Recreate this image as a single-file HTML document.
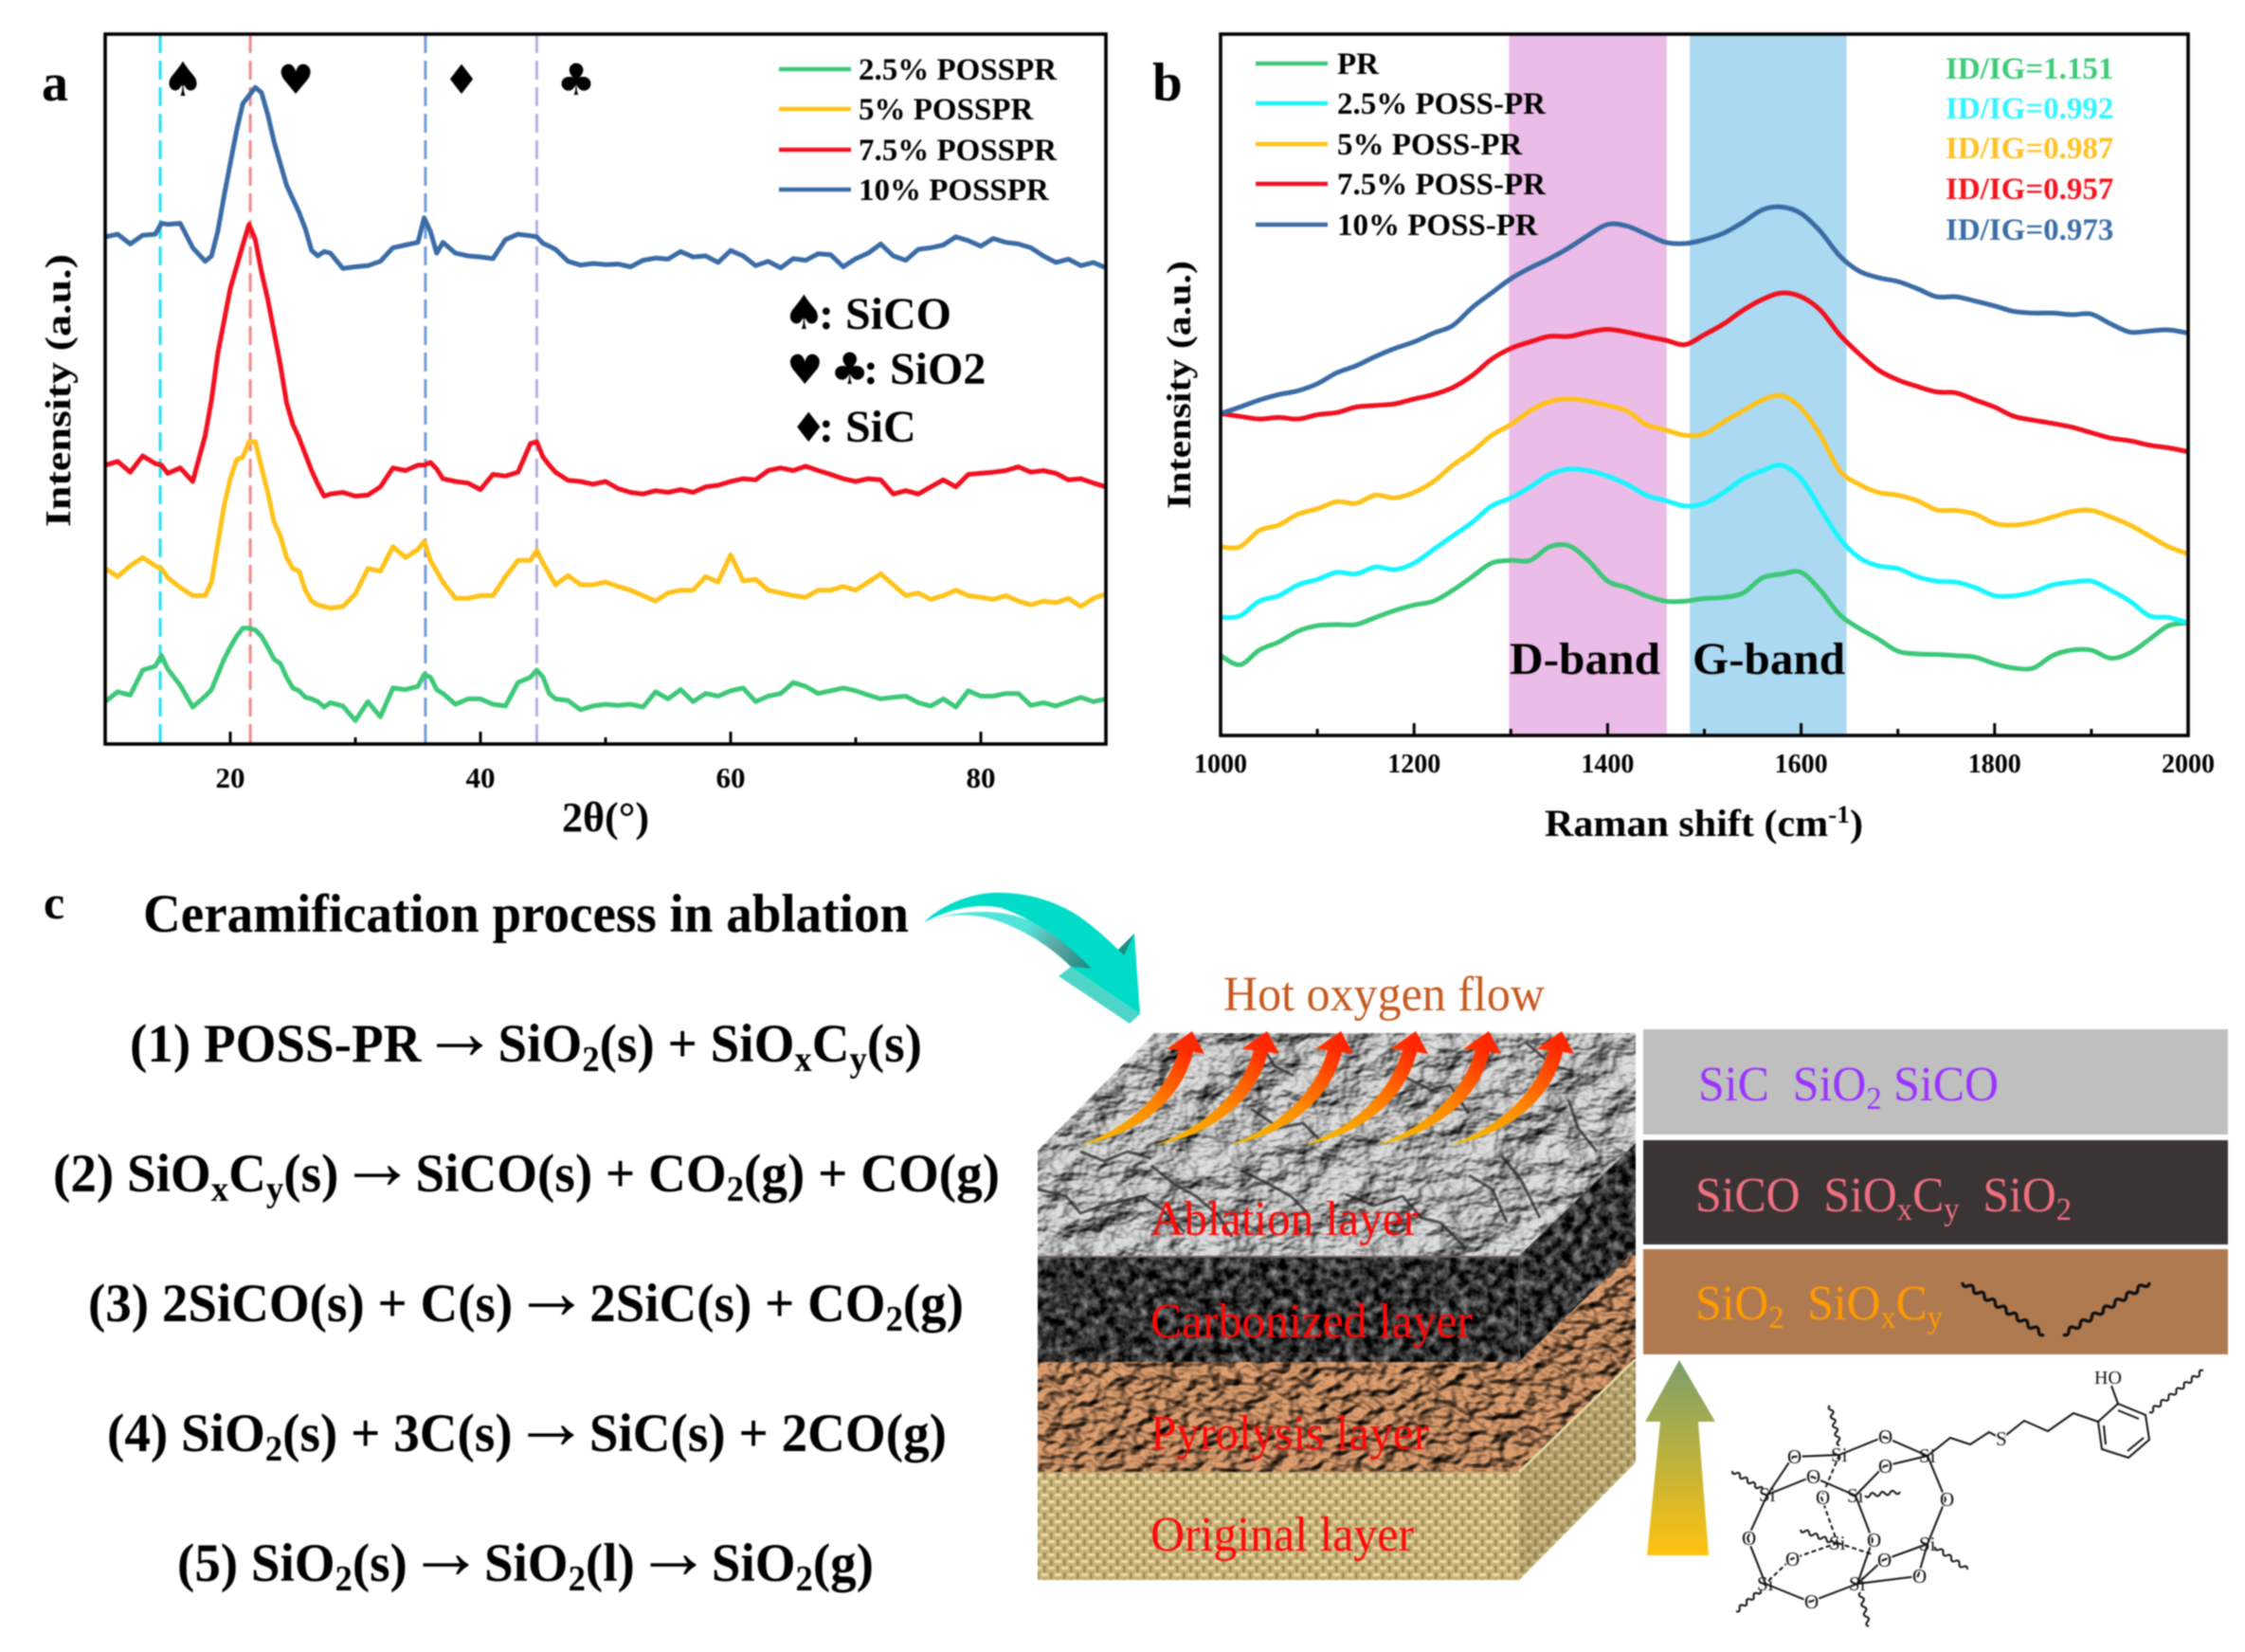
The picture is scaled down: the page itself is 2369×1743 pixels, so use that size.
<!DOCTYPE html>
<html lang="en">
<head>
<meta charset="utf-8">
<title>POSS-PR XRD, Raman and ceramification figure</title>
<style>
html,body{margin:0;padding:0;background:#fff;}
svg{display:block;filter:blur(0.8px);}
text{font-family:"Liberation Serif",serif;}
.b{font-weight:bold;}
.ar{font-weight:normal;}
</style>
</head>
<body>
<svg id="fig" xmlns="http://www.w3.org/2000/svg" width="2369" height="1743" viewBox="0 0 2369 1743">
<defs>
<filter id="texAbl" x="0" y="0" width="100%" height="100%" color-interpolation-filters="sRGB"><feTurbulence type="fractalNoise" baseFrequency="0.022 0.032" numOctaves="4" seed="4"/><feDiffuseLighting surfaceScale="13" diffuseConstant="1.12" lighting-color="#c8c8c8"><feDistantLight azimuth="225" elevation="55"/></feDiffuseLighting></filter>
<filter id="texCarb" x="0" y="0" width="100%" height="100%" color-interpolation-filters="sRGB"><feTurbulence type="fractalNoise" baseFrequency="0.1" numOctaves="3" seed="8"/><feColorMatrix type="matrix" values="1 0 0 0 -0.3  1 0 0 0 -0.3  1 0 0 0 -0.3  0 0 0 0 1"/></filter>
<filter id="texPyro" x="0" y="0" width="100%" height="100%" color-interpolation-filters="sRGB"><feTurbulence type="fractalNoise" baseFrequency="0.06 0.085" numOctaves="2" seed="12"/><feDiffuseLighting surfaceScale="10" diffuseConstant="1.02" lighting-color="#e0a070"><feDistantLight azimuth="225" elevation="60"/></feDiffuseLighting></filter>
<pattern id="weave" width="14" height="14" patternUnits="userSpaceOnUse">
  <rect width="14" height="14" fill="#c8b27a"/>
  <rect x="0" y="1" width="7" height="3" fill="#ecdca4"/>
  <rect x="7" y="8" width="7" height="3" fill="#ecdca4"/>
  <rect x="9" y="0" width="2.5" height="7" fill="#a08c58"/>
  <rect x="2" y="7" width="2.5" height="7" fill="#a08c58"/>
</pattern>
<clipPath id="clipAbl"><polygon points="1095,1214 1218,1090 1726,1090 1726,1206 1603,1325 1095,1325"/></clipPath>
<clipPath id="clipCarb"><polygon points="1095,1325 1603,1325 1726,1206 1726,1319 1603,1437 1095,1437"/></clipPath>
<clipPath id="clipPyro"><polygon points="1095,1437 1603,1437 1726,1319 1726,1434 1603,1553 1095,1553"/></clipPath>
<clipPath id="clipOrig"><polygon points="1095,1553 1603,1553 1726,1434 1726,1543 1603,1667 1095,1667"/></clipPath>
<linearGradient id="hotGrad" x1="0" y1="1" x2="1" y2="0"><stop offset="0" stop-color="#f5c400"/><stop offset="0.45" stop-color="#ff8a00"/><stop offset="0.85" stop-color="#ff2a00"/><stop offset="1" stop-color="#ff2000"/></linearGradient>
<linearGradient id="upGrad" x1="0" y1="0" x2="0" y2="1"><stop offset="0" stop-color="#7a9f6c"/><stop offset="1" stop-color="#ffc20e"/></linearGradient>
<linearGradient id="tealShade" gradientUnits="userSpaceOnUse" x1="1085" y1="975" x2="1150" y2="1022"><stop offset="0" stop-color="#52e4d8"/><stop offset="0.45" stop-color="#5aa8a4"/><stop offset="1" stop-color="#1e8883"/></linearGradient>
<path id="hotArrow" d="M0 0 C45 -16 90 -50 104 -100 L91 -101 L118 -120 L131 -96 L119 -98 C105 -40 50 -8 0 0Z" fill="url(#hotGrad)"/>
</defs>
<rect width="2369" height="1743" fill="#fff"/>

<g id="panelA">
  <g id="aBands"></g>
  <g id="aSeries"></g>
  <rect x="111" y="36" width="1056" height="749" fill="none" stroke="#000" stroke-width="3.6"/>
  <g id="aTicks"></g>
  <text x="44" y="106" class="b" font-size="56">a</text>
  <text x="593" y="877" font-size="44" textLength="92" lengthAdjust="spacingAndGlyphs" style="font-weight:bold">2θ(°)</text>
  <text transform="translate(74,412) rotate(-90)" text-anchor="middle" class="b" font-size="38" textLength="288" lengthAdjust="spacingAndGlyphs">Intensity (a.u.)</text>
  <g text-anchor="middle">
    <text x="193" y="101" font-size="50" style="font-family:'DejaVu Sans',sans-serif">♠</text>
    <text x="312" y="99" font-size="43" style="font-family:'DejaVu Sans',sans-serif">♥</text>
    <text x="487" y="99" font-size="43" style="font-family:'DejaVu Sans',sans-serif">♦</text>
    <text x="608" y="100" font-size="46" style="font-family:'DejaVu Sans',sans-serif">♣</text>
  </g>
  <g class="b" font-size="33">
    <g><line x1="822" x2="898" y1="73" y2="73" stroke="#3dc878" stroke-width="4.5"/><text x="906" y="84">2.5% POSSPR</text></g>
    <g><line x1="822" x2="898" y1="115" y2="115" stroke="#ffc21a" stroke-width="4.5"/><text x="906" y="126">5% POSSPR</text></g>
    <g><line x1="822" x2="898" y1="158" y2="158" stroke="#f01020" stroke-width="4.5"/><text x="906" y="169">7.5% POSSPR</text></g>
    <g><line x1="822" x2="898" y1="200" y2="200" stroke="#3a6ba5" stroke-width="4.5"/><text x="906" y="211">10% POSSPR</text></g>
  </g>
  <g class="b" font-size="48">
    <text y="347"><tspan x="826" style="font-family:'DejaVu Sans',sans-serif" font-size="50">♠</tspan><tspan x="864">: SiCO</tspan></text>
    <text y="405"><tspan x="830" style="font-family:'DejaVu Sans',sans-serif" font-size="43">♥</tspan><tspan x="876" style="font-family:'DejaVu Sans',sans-serif" font-size="46">♣</tspan><tspan x="911">: SiO2</tspan></text>
    <text y="466"><tspan x="834" style="font-family:'DejaVu Sans',sans-serif" font-size="43">♦</tspan><tspan x="864">: SiC</tspan></text>
  </g>
</g>

<g id="panelB">
  <g id="bBands"></g>
  <g id="bSeries"></g>
  <rect x="1288" y="36" width="1021" height="740" fill="none" stroke="#000" stroke-width="3.6"/>
  <g id="bTicks"></g>
  <text x="1216" y="106" class="b" font-size="57">b</text>
  <text x="1798" y="882" text-anchor="middle" class="b" font-size="40" textLength="336" lengthAdjust="spacingAndGlyphs">Raman shift (cm<tspan dy="-14" font-size="26">-1</tspan><tspan dy="14">)</tspan></text>
  <text transform="translate(1256,406) rotate(-90)" text-anchor="middle" class="b" font-size="36" textLength="262" lengthAdjust="spacingAndGlyphs">Intensity (a.u.)</text>
  <text x="1593" y="711" class="b" font-size="48" textLength="159" lengthAdjust="spacingAndGlyphs">D-band</text>
  <text x="1786" y="711" class="b" font-size="48" textLength="161" lengthAdjust="spacingAndGlyphs">G-band</text>
  <g class="b" font-size="33">
    <g><line x1="1325" x2="1401" y1="67" y2="67" stroke="#3dc878" stroke-width="4.5"/><text x="1411" y="78">PR</text></g>
    <g><line x1="1325" x2="1401" y1="109" y2="109" stroke="#19f5ff" stroke-width="4.5"/><text x="1411" y="120">2.5% POSS-PR</text></g>
    <g><line x1="1325" x2="1401" y1="152" y2="152" stroke="#ffc21a" stroke-width="4.5"/><text x="1411" y="163">5% POSS-PR</text></g>
    <g><line x1="1325" x2="1401" y1="194" y2="194" stroke="#f01020" stroke-width="4.5"/><text x="1411" y="205">7.5% POSS-PR</text></g>
    <g><line x1="1325" x2="1401" y1="237" y2="237" stroke="#3a6ba5" stroke-width="4.5"/><text x="1411" y="248">10% POSS-PR</text></g>
  </g>
  <g class="b" font-size="33">
    <text x="2053" y="83" fill="#3ecb78">ID/IG=1.151</text>
    <text x="2053" y="125" fill="#33f5ff">ID/IG=0.992</text>
    <text x="2053" y="167" fill="#ffc125">ID/IG=0.987</text>
    <text x="2053" y="210" fill="#f5141e">ID/IG=0.957</text>
    <text x="2053" y="253" fill="#3a6ea5">ID/IG=0.973</text>
  </g>
</g>

<g id="panelC">
  <text x="46" y="969" class="b" font-size="50">c</text>
  <text x="151" y="983" class="b" font-size="57" textLength="808" lengthAdjust="spacingAndGlyphs">Ceramification process in ablation</text>
  <g class="b" font-size="57">
    <text x="137" y="1120" textLength="836" lengthAdjust="spacingAndGlyphs">(1) POSS-PR<tspan class="ar" font-size="84" dy="-3">→</tspan><tspan dy="3">SiO</tspan><tspan dy="10" font-size="38">2</tspan><tspan dy="-10">(s) + SiO</tspan><tspan dy="10" font-size="38">x</tspan><tspan dy="-10">C</tspan><tspan dy="10" font-size="38">y</tspan><tspan dy="-10">(s)</tspan></text>
    <text x="56" y="1257" textLength="999" lengthAdjust="spacingAndGlyphs">(2) SiO<tspan dy="10" font-size="38">x</tspan><tspan dy="-10">C</tspan><tspan dy="10" font-size="38">y</tspan><tspan dy="-10">(s)</tspan><tspan class="ar" font-size="84" dy="-3">→</tspan><tspan dy="3">SiCO(s) + CO</tspan><tspan dy="10" font-size="38">2</tspan><tspan dy="-10">(g) + CO(g)</tspan></text>
    <text x="93" y="1394" textLength="924" lengthAdjust="spacingAndGlyphs">(3) 2SiCO(s) + C(s)<tspan class="ar" font-size="84" dy="-3">→</tspan><tspan dy="3">2SiC(s) + CO</tspan><tspan dy="10" font-size="38">2</tspan><tspan dy="-10">(g)</tspan></text>
    <text x="113" y="1531" textLength="886" lengthAdjust="spacingAndGlyphs">(4) SiO<tspan dy="10" font-size="38">2</tspan><tspan dy="-10">(s) + 3C(s)</tspan><tspan class="ar" font-size="84" dy="-3">→</tspan><tspan dy="3">SiC(s) + 2CO(g)</tspan></text>
    <text x="187" y="1668" textLength="735" lengthAdjust="spacingAndGlyphs">(5) SiO<tspan dy="10" font-size="38">2</tspan><tspan dy="-10">(s)</tspan><tspan class="ar" font-size="84" dy="-3">→</tspan><tspan dy="3">SiO</tspan><tspan dy="10" font-size="38">2</tspan><tspan dy="-10">(l)</tspan><tspan class="ar" font-size="84" dy="-3">→</tspan><tspan dy="3">SiO</tspan><tspan dy="10" font-size="38">2</tspan><tspan dy="-10">(g)</tspan></text>
  </g>
  <g>
    <path d="M975 973 C1000 963 1040 958 1070 966 C1110 976 1135 1002 1152 1022 L1130 1020 C1105 995 1070 975 1040 968 C1015 963 995 966 975 973Z" fill="url(#tealShade)"/>
    <polygon points="1117,1030 1130,1020 1203,1070 1192,1080" fill="#4fd5c8"/>
    <path d="M975 973 C1000 948 1040 940 1057 942 C1090 942 1125 955 1147 973 C1160 983 1170 992 1180 1002 L1197 985 L1203 1070 L1130 1020 L1152 1022 C1130 1000 1103 975 1057 958 C1030 952 1000 960 975 973Z" fill="#00dcc8"/>
    <polygon points="1180,1002 1197,985 1186,1008" fill="#1f8a85"/>
  </g>
  <text x="1291" y="1066" font-size="52" fill="#c55a20" textLength="339" lengthAdjust="spacingAndGlyphs">Hot oxygen flow</text>

  <g>
    <g clip-path="url(#clipAbl)">
      <rect x="1090" y="1085" width="640" height="245" filter="url(#texAbl)"/>
      <g fill="none" stroke="#222" stroke-width="3" opacity="0.7">
        <path d="M1095 1255 L1125 1262 L1140 1280 L1165 1272 L1205 1262 L1225 1275 L1250 1300"/>
        <path d="M1215 1230 L1240 1250 L1262 1262 L1285 1282 L1300 1305"/>
        <path d="M1310 1235 L1340 1250 L1362 1262 L1380 1280"/>
        <path d="M1420 1260 L1450 1272 L1480 1262 L1500 1285 L1520 1290 L1545 1315"/>
        <path d="M1585 1220 L1605 1245 L1625 1285"/>
        <path d="M1655 1160 L1665 1190 L1685 1215"/>
        <path d="M1330 1100 L1345 1125 L1365 1135"/>
        <path d="M1480 1135 L1510 1150 L1530 1145 L1550 1175"/>
        <path d="M1610 1100 L1640 1125 L1660 1130"/>
        <path d="M1140 1215 L1165 1225 L1190 1215 L1215 1222"/>
        <path d="M1320 1170 L1350 1190 L1375 1185 L1395 1205"/>
        <path d="M1550 1240 L1575 1255 L1590 1290"/>
      </g>
    </g>
    <g clip-path="url(#clipCarb)">
      <rect x="1090" y="1200" width="640" height="240" filter="url(#texCarb)"/>
      <line x1="1603" y1="1325" x2="1603" y2="1437" stroke="#555" stroke-width="1.5"/>
      <line x1="1095" y1="1326" x2="1603" y2="1326" stroke="#6b6060" stroke-width="2"/>
    </g>
    <g clip-path="url(#clipPyro)">
      <rect x="1090" y="1315" width="640" height="240" filter="url(#texPyro)"/>
    </g>
    <g clip-path="url(#clipOrig)">
      <rect x="1090" y="1430" width="640" height="240" fill="url(#weave)"/>
      <polygon points="1603,1553 1726,1434 1726,1543 1603,1667" fill="#4a3c18" opacity="0.16"/>
    </g>
    <line x1="1603" y1="1553" x2="1726" y2="1434" stroke="#e8dcaa" stroke-width="2.5"/>
    <g>
      <use href="#hotArrow" x="1140" y="1208"/>
      <use href="#hotArrow" x="1219" y="1208"/>
      <use href="#hotArrow" x="1297" y="1208"/>
      <use href="#hotArrow" x="1376" y="1208"/>
      <use href="#hotArrow" x="1453" y="1208"/>
      <use href="#hotArrow" x="1530" y="1208"/>
    </g>
    <g font-size="52" fill="#ff0808">
      <text x="1214" y="1303" textLength="283" lengthAdjust="spacingAndGlyphs">Ablation layer</text>
      <text x="1214" y="1411" textLength="340" lengthAdjust="spacingAndGlyphs">Carbonized layer</text>
      <text x="1214" y="1529" textLength="294" lengthAdjust="spacingAndGlyphs">Pyrolysis layer</text>
      <text x="1214" y="1636" textLength="278" lengthAdjust="spacingAndGlyphs">Original layer</text>
    </g>
  </g>

  <g>
    <rect x="1734" y="1086" width="617" height="111" fill="#bfbfbf"/>
    <rect x="1734" y="1203" width="617" height="110" fill="#3a3435"/>
    <rect x="1734" y="1318" width="617" height="111" fill="#b07a50"/>
    <text x="1792" y="1161" font-size="52" fill="#9a33ff" textLength="317" lengthAdjust="spacingAndGlyphs">SiC&#160;&#160;SiO<tspan dy="9" font-size="34">2</tspan><tspan dy="-9"> SiCO</tspan></text>
    <text x="1789" y="1278" font-size="52" fill="#f07080" textLength="397" lengthAdjust="spacingAndGlyphs">SiCO&#160;&#160;SiO<tspan dy="9" font-size="34">x</tspan><tspan dy="-9">C</tspan><tspan dy="9" font-size="34">y</tspan><tspan dy="-9">&#160;&#160;SiO</tspan><tspan dy="9" font-size="34">2</tspan></text>
    <text x="1789" y="1392" font-size="52" fill="#ff9a00" textLength="261" lengthAdjust="spacingAndGlyphs">SiO<tspan dy="9" font-size="34">2</tspan><tspan dy="-9">&#160;&#160;SiO</tspan><tspan dy="9" font-size="34">x</tspan><tspan dy="-9">C</tspan><tspan dy="9" font-size="34">y</tspan></text>
  </g>
  <polygon points="1772,1435 1810,1500 1792,1500 1803,1641 1738,1641 1752,1500 1736,1500" fill="url(#upGrad)"/>

  <g id="molecule" fill="none" stroke="#111" stroke-width="2">
    <path d="M1941 1535 L1988 1516 L2034 1536 M1941 1535 L1892 1537 L1865 1577 M2034 1536 L1988 1547 L1958 1578 M1865 1577 L1912 1558 L1958 1578 M2034 1536 L2053 1582 L2034 1629 M1865 1577 L1844 1623 L1863 1671 M1958 1578 L1976 1625 L1960 1671 M2034 1629 L2024 1663 L1960 1671 M1863 1671 L1910 1690 L1960 1671 M2034 1629 L1987 1646 L1960 1671"/>
    <path d="M1941 1535 L1922 1580 L1939 1628 M1939 1628 L1890 1645 L1863 1671 M1939 1628 L1976 1640" stroke-dasharray="5 3"/>
    <path d="M2034 1536 L2058 1517 L2079 1524 L2099 1511 L2112 1518 L2136 1499 L2161 1510 L2188 1491 L2214 1500"/>
    <path d="M2214 1500 L2235 1481 L2264 1493 L2268 1519 L2246 1538 L2218 1529 Z M2235 1488 L2257 1497 M2262 1517 L2245 1531 M2222 1524 L2220 1504 M2235 1481 L2228 1462"/>
    <g stroke="none" fill="#111" font-size="21">
      <text x="1932" y="1542">Si</text><text x="2025" y="1543">Si</text><text x="1856" y="1584">Si</text><text x="1949" y="1585">Si</text><text x="1930" y="1635">Si</text><text x="2025" y="1636">Si</text><text x="1854" y="1678">Si</text><text x="1951" y="1678">Si</text>
      <g paint-order="stroke" stroke="#fff" stroke-width="3">
      <text x="1982" y="1523">O</text><text x="1886" y="1544">O</text><text x="1982" y="1554">O</text><text x="1906" y="1565">O</text><text x="2047" y="1589">O</text><text x="1916" y="1587">O</text><text x="1838" y="1630">O</text><text x="1970" y="1632">O</text><text x="1884" y="1652">O</text><text x="1981" y="1653">O</text><text x="2018" y="1670">O</text><text x="1904" y="1697">O</text>
      <text x="2106" y="1525">S</text>
      <text x="2210" y="1460" font-size="20">HO</text>
      </g>
    </g>
    <g id="squiggles" stroke-width="2.2"></g>
  </g>
</g>

<script>
// ---- Panel a: XRD ----
const twoTheta = [10,11,12,13,14,14.5,15,16,17,18,18.5,19,19.5,20,20.5,21,21.5,22,22.5,23,23.5,24,24.5,25,25.5,26,26.5,27,27.5,28,29,30,31,32,33,34,35,35.5,36,36.5,37,38,39,40,41,42,43,44,44.5,45,45.5,46,47,48,49,50,51,52,53,54,55,56,57,58,59,60,61,62,63,64,65,66,67,68,69,70,71,72,73,74,75,76,77,78,79,80,81,82,83,84,85,86,87,88,89,90];
const xrd10 = [933,938,920,936,938,958,956,958,913,888,898,943,1008,1068,1128,1178,1193,1208,1198,1158,1108,1068,1028,1003,978,948,908,898,906,903,875,878,880,888,913,918,923,968,943,903,923,903,898,896,893,928,938,935,933,921,916,910,888,881,884,882,883,878,890,894,892,906,896,898,886,908,898,880,888,876,893,890,902,900,878,893,903,920,898,890,910,913,918,933,926,916,930,923,920,913,898,886,892,880,886,876];
const xrd75 = [513,520,500,530,516,513,498,508,483,568,633,718,778,838,878,918,956,928,868,818,758,698,628,588,563,533,503,478,456,460,463,456,458,473,508,503,513,513,518,506,488,483,480,468,496,493,500,553,556,528,513,500,485,483,478,483,470,463,460,466,463,468,463,473,476,483,488,486,503,508,503,511,503,496,488,483,488,486,460,466,460,473,486,473,496,498,500,503,510,500,503,498,486,488,480,473];
const xrd5 = [323,308,328,343,328,323,306,288,273,273,298,368,438,488,523,528,556,556,508,463,408,383,343,323,318,283,263,256,253,250,253,276,323,318,363,343,358,373,338,318,298,268,268,273,273,308,338,338,356,333,313,293,310,293,293,298,290,283,273,263,278,283,283,308,298,348,300,303,283,278,273,270,283,283,290,283,298,313,293,273,278,266,273,283,273,270,266,273,263,256,263,260,268,253,268,276];
const xrd25 = [78,96,90,136,143,163,138,108,68,88,100,128,156,178,198,213,213,210,198,178,156,148,123,103,98,86,83,78,68,76,70,43,78,50,103,100,106,128,123,100,93,73,83,83,73,70,113,123,136,123,93,83,80,63,70,73,71,73,68,96,83,100,78,93,88,98,103,78,88,93,113,106,93,98,103,98,90,83,86,88,76,70,83,68,98,88,88,93,93,71,76,70,78,86,78,83];
const xrdTicks = [20,40,60,80];
const xrdMinorTicks = [30,50,70];
const xrdPeaks = [14.4,21.6,35.6,44.5];
const xrdPeakColors = ['#22e0f0','#f08a8a','#6f9ddd','#b0b0e0'];

// ---- Panel b: Raman ----
const ramanShift = [1000,1020,1040,1060,1080,1100,1120,1140,1160,1180,1200,1220,1240,1260,1280,1300,1320,1340,1360,1380,1400,1420,1440,1460,1480,1500,1520,1540,1560,1580,1600,1620,1640,1660,1680,1700,1720,1740,1760,1780,1800,1820,1840,1860,1880,1900,1920,1940,1960,1980,2000];
const ramanPR = [147,130,157,172,192,202,204,204,217,230,240,247,267,292,317,322,322,347,349,322,284,272,257,247,247,252,254,262,290,297,300,267,222,197,177,155,150,149,147,144,132,124,124,147,157,157,142,152,177,202,207];
const raman25 = [217,220,247,257,277,287,300,297,310,305,317,342,367,392,422,437,457,480,490,487,477,462,442,432,422,427,447,472,487,497,472,417,362,327,312,307,292,284,282,272,257,257,264,277,282,284,267,247,220,217,207];
const raman5 = [347,347,377,387,407,417,430,427,442,437,447,467,497,522,552,572,597,614,619,615,607,597,572,562,552,555,577,597,617,625,602,552,487,462,447,442,432,415,414,407,390,387,392,402,412,414,402,387,367,347,334];
const raman75 = [592,587,582,585,582,590,594,604,607,610,619,627,640,662,692,712,724,734,734,742,747,742,734,727,719,737,757,782,802,814,807,782,737,702,672,654,642,632,630,617,604,587,580,574,567,557,547,542,534,529,522];
const raman10 = [592,604,617,627,634,647,667,680,697,712,724,740,754,787,814,840,860,877,897,920,940,937,922,907,905,912,924,944,967,972,960,927,882,854,842,835,822,807,807,799,790,780,777,777,774,775,757,742,744,746,740];
const ramanTicks = [1000,1200,1400,1600,1800,2000];
const ramanMinorTicks = [1100,1300,1500,1700,1900];
const dBandRange = [1298,1461];
const gBandRange = [1485,1647];

const NS = 'http://www.w3.org/2000/svg';

function linScale(d0, d1, r0, r1) {
  return function (v) { return r0 + (v - d0) * (r1 - r0) / (d1 - d0); };
}
const xA = linScale(10, 90, 111, 1167);
const yA = linScale(0, 1306, 785, 36);
const xB = linScale(1000, 2000, 1288, 2309);
const yB = linScale(0, 1290, 776, 36);

function linePath(xs, ys, sx, sy) {
  let d = '';
  for (let i = 0; i < xs.length && i < ys.length; i++) {
    d += (i ? 'L' : 'M') + sx(xs[i]).toFixed(1) + ' ' + sy(ys[i]).toFixed(1);
  }
  return d;
}

// Smooth path through the data points using Catmull-Rom tangents
function smoothPath(xs, ys, sx, sy) {
  const n = Math.min(xs.length, ys.length);
  const px = [], py = [];
  for (let i = 0; i < n; i++) { px.push(sx(xs[i])); py.push(sy(ys[i])); }
  let d = 'M' + px[0].toFixed(1) + ' ' + py[0].toFixed(1);
  for (let i = 0; i < n - 1; i++) {
    const a = Math.max(i - 1, 0), b = Math.min(i + 2, n - 1);
    const c1x = px[i] + (px[i + 1] - px[a]) / 6, c1y = py[i] + (py[i + 1] - py[a]) / 6;
    const c2x = px[i + 1] - (px[b] - px[i]) / 6, c2y = py[i + 1] - (py[b] - py[i]) / 6;
    d += 'C' + c1x.toFixed(1) + ' ' + c1y.toFixed(1) + ' ' + c2x.toFixed(1) + ' ' + c2y.toFixed(1) + ' ' + px[i + 1].toFixed(1) + ' ' + py[i + 1].toFixed(1);
  }
  return d;
}

function drawSeries(parent, pathData, color, name) {
  const p = document.createElementNS(NS, 'path');
  p.setAttribute('d', pathData);
  p.setAttribute('fill', 'none');
  p.setAttribute('stroke', color);
  p.setAttribute('stroke-width', '5');
  p.setAttribute('stroke-linejoin', 'round');
  
  
  parent.appendChild(p);
}

function drawTicks(parent, majors, minors, sx, yBase, labelY, fontSize) {
  majors.forEach(function (t) {
    const l = document.createElementNS(NS, 'line');
    l.setAttribute('x1', sx(t)); l.setAttribute('x2', sx(t));
    l.setAttribute('y1', yBase); l.setAttribute('y2', yBase - 13);
    l.setAttribute('stroke', '#000'); l.setAttribute('stroke-width', '3');
    
    
    parent.appendChild(l);
    const tx = document.createElementNS(NS, 'text');
    tx.setAttribute('x', sx(t)); tx.setAttribute('y', labelY);
    tx.setAttribute('text-anchor', 'middle');
    tx.setAttribute('font-size', fontSize);
    tx.setAttribute('font-weight', 'bold');
    
    
    tx.textContent = t;
    parent.appendChild(tx);
  });
  minors.forEach(function (t) {
    const l = document.createElementNS(NS, 'line');
    l.setAttribute('x1', sx(t)); l.setAttribute('x2', sx(t));
    l.setAttribute('y1', yBase); l.setAttribute('y2', yBase - 7);
    l.setAttribute('stroke', '#000'); l.setAttribute('stroke-width', '3');
    
    
    parent.appendChild(l);
  });
}

// XRD marks
const aSeries = document.getElementById('aSeries');
drawSeries(aSeries, linePath(twoTheta, xrd25, xA, yA), '#3dc878', 'series-2-5-posspr');
drawSeries(aSeries, linePath(twoTheta, xrd5, xA, yA), '#ffc21a', 'series-5-posspr');
drawSeries(aSeries, linePath(twoTheta, xrd75, xA, yA), '#f01020', 'series-7-5-posspr');
drawSeries(aSeries, linePath(twoTheta, xrd10, xA, yA), '#3a6ba5', 'series-10-posspr');
const aBands = document.getElementById('aBands');
xrdPeaks.forEach(function (p, i) {
  const l = document.createElementNS(NS, 'line');
  l.setAttribute('x1', xA(p)); l.setAttribute('x2', xA(p));
  l.setAttribute('y1', 36); l.setAttribute('y2', 785);
  l.setAttribute('stroke', xrdPeakColors[i]);
  l.setAttribute('stroke-width', '3');
  l.setAttribute('stroke-dasharray', '20 8');
  
  
  aBands.appendChild(l);
});
drawTicks(document.getElementById('aTicks'), xrdTicks, xrdMinorTicks, xA, 785, 831, 31);

// Raman marks
const bBands = document.getElementById('bBands');
[[dBandRange, '#ecbce8', 'd-band-region'], [gBandRange, '#abd9f2', 'g-band-region']].forEach(function (b) {
  const r = document.createElementNS(NS, 'rect');
  r.setAttribute('x', xB(b[0][0]));
  r.setAttribute('width', xB(b[0][1]) - xB(b[0][0]));
  r.setAttribute('y', 36);
  r.setAttribute('height', 740);
  r.setAttribute('fill', b[1]);
  
  
  bBands.appendChild(r);
});
const bSeries = document.getElementById('bSeries');
drawSeries(bSeries, smoothPath(ramanShift, ramanPR, xB, yB), '#3dc878', 'series-pr');
drawSeries(bSeries, smoothPath(ramanShift, raman25, xB, yB), '#19f5ff', 'series-2-5-poss-pr');
drawSeries(bSeries, smoothPath(ramanShift, raman5, xB, yB), '#ffc21a', 'series-5-poss-pr');
drawSeries(bSeries, smoothPath(ramanShift, raman75, xB, yB), '#f01020', 'series-7-5-poss-pr');
drawSeries(bSeries, smoothPath(ramanShift, raman10, xB, yB), '#3a6ba5', 'series-10-poss-pr');
drawTicks(document.getElementById('bTicks'), ramanTicks, ramanMinorTicks, xB, 776, 815, 28);

// Polymer squiggles on the molecule and the brown box
function squiggle(x1, y1, x2, y2, amp, period, width) {
  const dx = x2 - x1, dy = y2 - y1, len = Math.hypot(dx, dy);
  const n = Math.max(2, Math.round(len / period));
  const nx = -dy / len, ny = dx / len;
  let d = 'M' + x1 + ' ' + y1;
  for (let i = 1; i <= n; i++) {
    const s = (i - 0.5) / n, e = i / n, sg = i % 2 ? 1 : -1;
    d += 'Q' + (x1 + dx * s + nx * amp * sg * 2).toFixed(1) + ' ' + (y1 + dy * s + ny * amp * sg * 2).toFixed(1) + ' ' + (x1 + dx * e).toFixed(1) + ' ' + (y1 + dy * e).toFixed(1);
  }
  const p = document.createElementNS(NS, 'path');
  p.setAttribute('d', d);
  p.setAttribute('stroke-width', width);
  
  
  document.getElementById('squiggles').appendChild(p);
}
squiggle(1931, 1483, 1941, 1525, 2, 5, 2);
squiggle(1828, 1552, 1860, 1572, 2, 5, 2);
squiggle(1968, 1578, 2005, 1574, 2, 5, 2);
squiggle(1900, 1614, 1932, 1626, 2, 5, 2);
squiggle(2042, 1632, 2076, 1656, 2, 5, 2);
squiggle(1832, 1700, 1858, 1678, 2, 5, 2);
squiggle(1963, 1680, 1972, 1716, 2, 5, 2);
squiggle(2268, 1490, 2325, 1446, 2, 5, 2);
squiggle(2071, 1353, 2157, 1408, 2.5, 7, 3.4);
squiggle(2177, 1408, 2268, 1353, 2.5, 7, 3.4);
</script>
</svg>
</body>
</html>
